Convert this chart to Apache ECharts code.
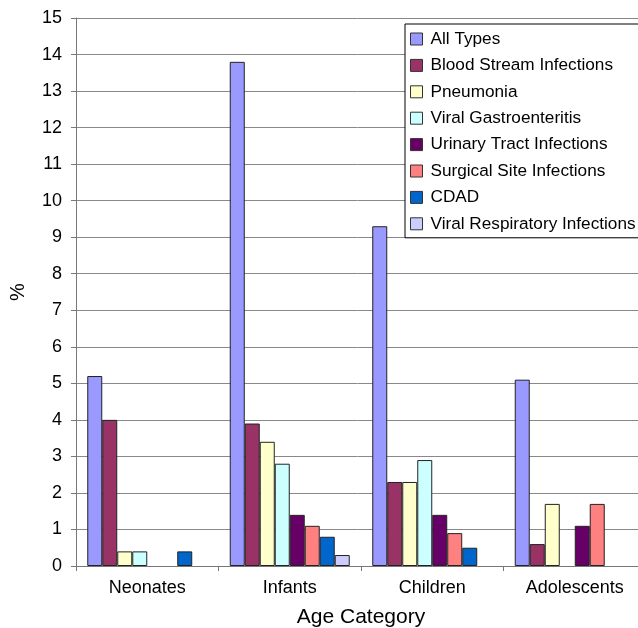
<!DOCTYPE html>
<html>
<head>
<meta charset="utf-8">
<script src="https://cdn.jsdelivr.net/npm/echarts@6/dist/echarts.min.js"></script>
<style>html,body{margin:0;padding:0;background:#fff}#c{width:638px;height:628px}</style>
</head>
<body>
<div id="c"></div>
<script>
const categories = ['Neonates', 'Infants', 'Children', 'Adolescents'];
const seriesNames = ['All Types', 'Blood Stream Infections', 'Pneumonia', 'Viral Gastroenteritis',
  'Urinary Tract Infections', 'Surgical Site Infections', 'CDAD', 'Viral Respiratory Infections'];
const allTypes = [5.2, 13.8, 9.3, 5.1];
const bloodStream = [4.0, 3.9, 2.3, 0.6];
const pneumonia = [0.4, 3.4, 2.3, 1.7];
const viralGastro = [0.4, 2.8, 2.9, 0];
const urinaryTract = [0, 1.4, 1.4, 1.1];
const surgicalSite = [0, 1.1, 0.9, 1.7];
const cdad = [0.4, 0.8, 0.5, 0];
const viralResp = [0, 0.3, 0, 0];
const yTicks = [0, 15, 1];
const colors = ['#9999FF', '#993366', '#FFFFCC', '#CCFFFF', '#660066', '#FF8080', '#0066CC', '#CCCCFF'];
const seriesData = [allTypes, bloodStream, pneumonia, viralGastro, urinaryTract, surgicalSite, cdad, viralResp];

const font = 'Liberation Sans, Arial, sans-serif';
const chart = echarts.init(document.getElementById('c'), null, {renderer: 'canvas'});
chart.setOption({
  animation: false,
  backgroundColor: '#fff',
  grid: {left: 76, right: -8, top: 18, bottom: 62, containLabel: false, outerBoundsMode: 'none'},
  legend: {
    orient: 'vertical',
    left: 405, top: 24,
    padding: [5, 20, 4, 5],
    backgroundColor: '#fff',
    borderColor: '#000', borderWidth: 1,
    itemWidth: 12, itemHeight: 12, itemGap: 6.4,
    icon: 'rect',
    itemStyle: {borderColor: '#333', borderWidth: 1},
    textStyle: {fontFamily: font, fontSize: 17.2, color: '#000', lineHeight: 20, padding: [0, 0, 0, 3]},
    data: seriesNames
  },
  xAxis: {
    type: 'category',
    data: categories,
    name: 'Age Category',
    nameLocation: 'middle',
    nameGap: 41,
    nameTextStyle: {fontFamily: font, fontSize: 21, color: '#000'},
    axisLine: {lineStyle: {color: '#777', width: 1}},
    axisTick: {show: true, length: 5, lineStyle: {color: '#777'}},
    axisLabel: {fontFamily: font, fontSize: 18, color: '#000', margin: 13},
    splitLine: {show: false}
  },
  yAxis: {
    type: 'value',
    min: yTicks[0], max: yTicks[1], interval: yTicks[2],
    name: '%',
    nameLocation: 'middle',
    nameGap: 48,
    nameRotate: 90,
    nameTextStyle: {fontFamily: font, fontSize: 20, color: '#000'},
    axisLine: {show: true, lineStyle: {color: '#777', width: 1}},
    axisTick: {show: true, length: 5, lineStyle: {color: '#777'}},
    axisLabel: {fontFamily: font, fontSize: 18, color: '#000', margin: 14},
    splitLine: {show: true, lineStyle: {color: '#888', width: 1}}
  },
  series: seriesNames.map((n, i) => ({
    name: n,
    type: 'bar',
    data: seriesData[i].map(v => (v === 0 ? null : v)),
    barGap: '0%',
    barCategoryGap: '15.8%',
    itemStyle: {color: colors[i], borderColor: '#222', borderWidth: 1}
  }))
});
</script>
</body>
</html>
